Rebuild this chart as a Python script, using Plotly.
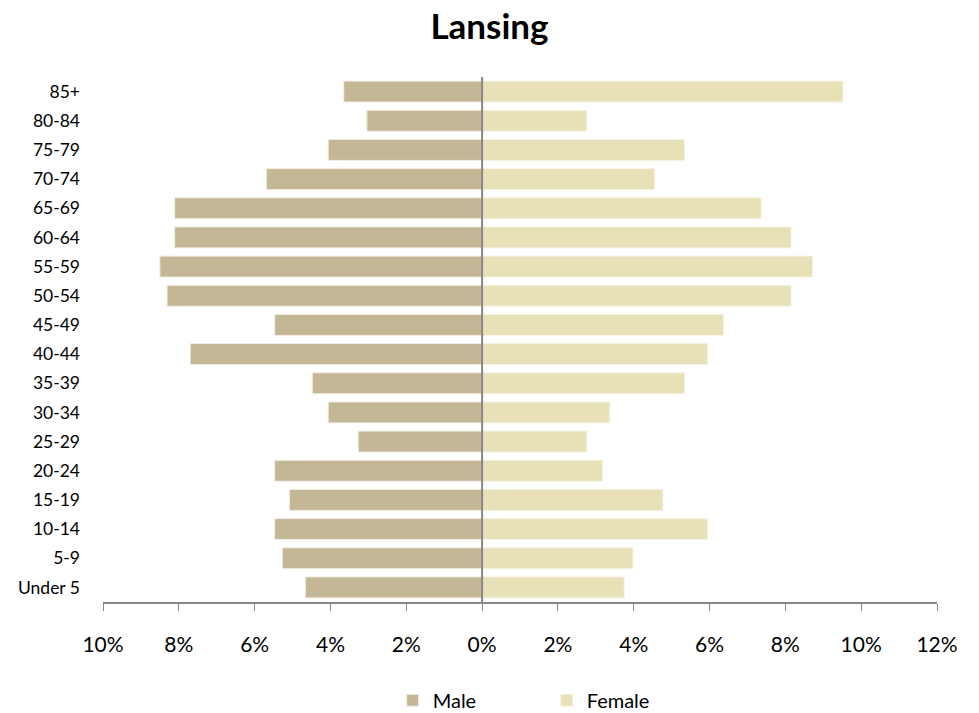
import plotly.graph_objects as go

age_groups = ["Under 5", "5-9", "10-14", "15-19", "20-24", "25-29", "30-34", "35-39",
              "40-44", "45-49", "50-54", "55-59", "60-64", "65-69", "70-74", "75-79",
              "80-84", "85+"]
male_pct = [4.66, 5.27, 5.47, 5.08, 5.47, 3.27, 4.06, 4.48,
            7.70, 5.47, 8.31, 8.50, 8.11, 8.11, 5.69, 4.06, 3.04, 3.65]
female_pct = [3.75, 3.98, 5.95, 4.77, 3.18, 2.76, 3.37, 5.34,
              5.95, 6.37, 8.15, 8.72, 8.15, 7.36, 4.55, 5.34, 2.76, 9.52]
tick_vals = [-10, -8, -6, -4, -2, 0, 2, 4, 6, 8, 10, 12]
tick_text = ["10%", "8%", "6%", "4%", "2%", "0%", "2%", "4%", "6%", "8%", "10%", "12%"]

FONT = "Lato, 'Open Sans', sans-serif"

fig = go.Figure()
fig.add_trace(go.Bar(
    y=age_groups, x=[-v for v in male_pct], orientation="h", name="Male",
    marker=dict(color="#C4B796", line=dict(color="#F3EFE4", width=1)),
    customdata=male_pct, hovertemplate="%{y}: %{customdata}%<extra>Male</extra>",
))
fig.add_trace(go.Bar(
    y=age_groups, x=female_pct, orientation="h", name="Female",
    marker=dict(color="#E8E1B8", line=dict(color="#F6F3E2", width=1)),
    hovertemplate="%{y}: %{x}%<extra>Female</extra>",
))

# vertical zero line drawn above the bars
fig.add_vline(x=0, line=dict(color="#878787", width=2), layer="above")

fig.update_layout(
    width=979, height=713,
    barmode="relative", bargap=0.28,
    paper_bgcolor="white", plot_bgcolor="white",
    margin=dict(l=103, r=42, t=77, b=111),
    font=dict(family=FONT, color="#000000", size=17),
    title=dict(text="<b>Lansing</b>", x=0.5, xanchor="center", y=0.962, yanchor="middle",
               font=dict(family=FONT, size=35, color="#000000")),
    showlegend=True,
    legend=dict(orientation="h", x=0.532, xanchor="center",
                yref="container", y=0.018, yanchor="middle",
                font=dict(family=FONT, size=20), traceorder="normal",
                itemwidth=30, entrywidth=109),
    xaxis=dict(range=[-10, 12], tickvals=tick_vals, ticktext=tick_text,
               showgrid=False, zeroline=False,
               showline=True, linecolor="#878787", linewidth=2,
               ticks="outside", ticklen=7, tickcolor="#878787", tickwidth=1,
               ticklabelstandoff=16, tickfont=dict(size=21)),
    yaxis=dict(showgrid=False, zeroline=False, showline=False, ticks="",
               ticklabelstandoff=22, tickfont=dict(size=17.5),
               range=[-0.5, 17.5]),
)

fig.write_html("out.html", config={"displayModeBar": False},
               post_script="document.body.style.margin='0';")
